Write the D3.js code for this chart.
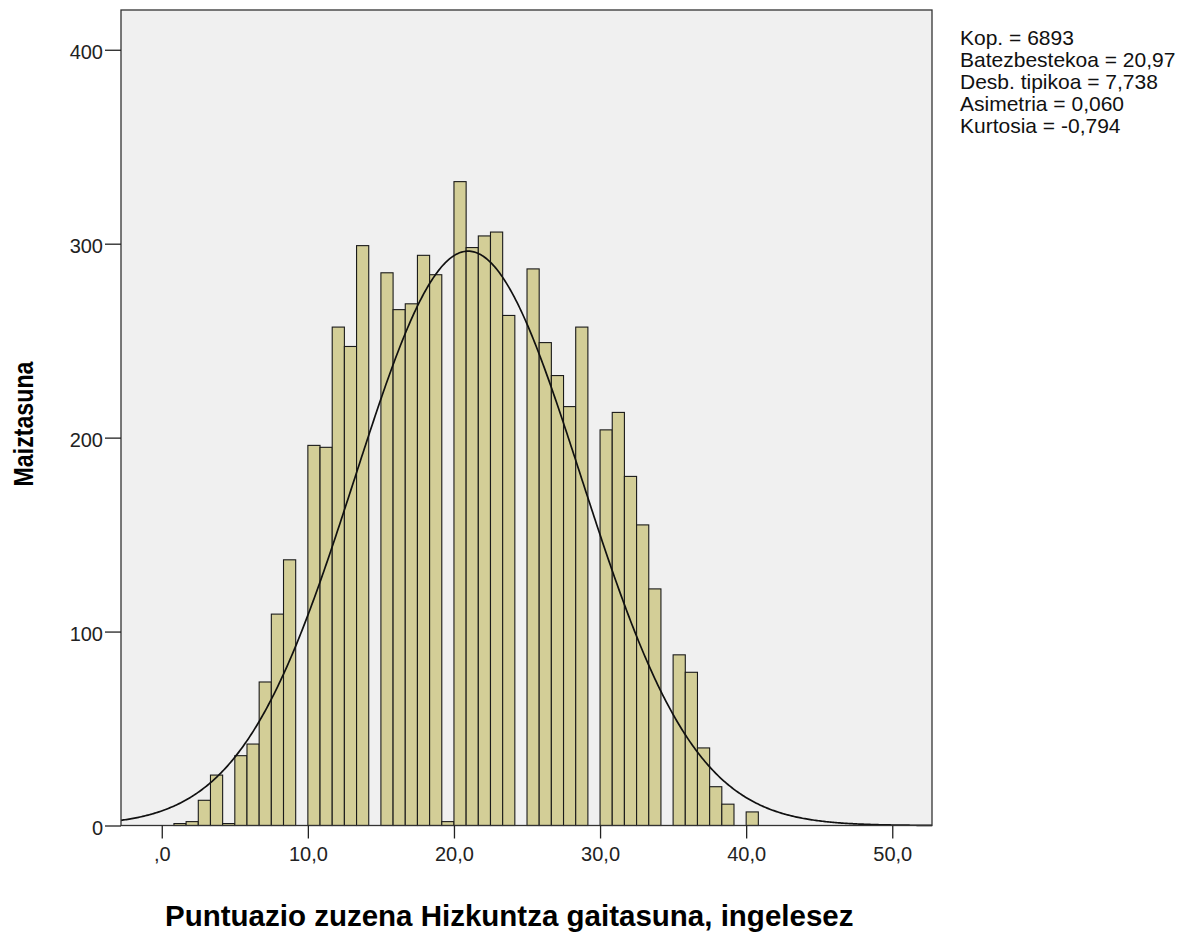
<!DOCTYPE html>
<html>
<head>
<meta charset="utf-8">
<script src="https://cdn.jsdelivr.net/npm/d3@7"></script>
<style>
  html, body { margin: 0; padding: 0; background: #fff; }
  svg { display: block; }
  text { font-family: "Liberation Sans", Arial, sans-serif; }
</style>
</head>
<body>
<svg id="chart" width="1189" height="933"></svg>
<script>
// ---- data ----
const binStart = 0;          // first bin left edge (score units)
const binWidth = 10 / 12;    // bin width (score units)
const binCounts = [0, 1, 2, 13, 26, 1, 36, 42, 74, 109, 137, 0, 196, 195, 257, 247, 299, 0,
                   285, 266, 269, 294, 284, 2, 332, 298, 304, 306, 263, 0, 287, 249, 232, 216,
                   257, 0, 204, 213, 180, 155, 122, 0, 88, 79, 40, 20, 11, 0, 7];
const xTickValues = [0, 10, 20, 30, 40, 50];
const xTickLabels = [",0", "10,0", "20,0", "30,0", "40,0", "50,0"];
const yTickValues = [0, 100, 200, 300, 400];
const yTickLabels = ["0", "100", "200", "300", "400"];
const statN = 6893, statMean = 20.97, statSD = 7.738;
const statLines = ["Kop. = 6893", "Batezbestekoa = 20,97", "Desb. tipikoa = 7,738",
                   "Asimetria = 0,060", "Kurtosia = -0,794"];
const xTitle = "Puntuazio zuzena Hizkuntza gaitasuna, ingelesez";
const yTitle = "Maiztasuna";

// ---- layout ----
const plot = { left: 121, right: 932, top: 10, bottom: 825.5 };
const svg = d3.select("#chart");

const x = d3.scaleLinear().domain([-2.79, 52.72]).range([plot.left, plot.right]);
const y = d3.scaleLinear().domain([0, 420.5]).range([plot.bottom, plot.top]);

// plot background
svg.append("rect")
  .attr("x", plot.left).attr("y", plot.top)
  .attr("width", plot.right - plot.left).attr("height", plot.bottom - plot.top)
  .attr("fill", "#f0f0f0");

// bars
const bins = binCounts.map((c, i) => ({ x0: binStart + i * binWidth, x1: binStart + (i + 1) * binWidth, c }));
svg.append("g").selectAll("rect")
  .data(bins.filter(d => d.c > 0))
  .join("rect")
  .attr("x", d => x(d.x0))
  .attr("width", d => x(d.x1) - x(d.x0))
  .attr("y", d => y(d.c))
  .attr("height", d => y(0) - y(d.c))
  .attr("fill", "#d3ce97")
  .attr("stroke", "#1a1a1a")
  .attr("stroke-width", 1.1);

// normal curve from the reported statistics
const pdf = v => Math.exp(-0.5 * Math.pow((v - statMean) / statSD, 2)) / (statSD * Math.sqrt(2 * Math.PI));
const curvePts = d3.range(0, 601).map(k => {
  const [a, b] = x.domain();
  const v = a + (b - a) * k / 600;
  return [v, statN * binWidth * pdf(v)];
});
svg.append("path")
  .datum(curvePts)
  .attr("fill", "none")
  .attr("stroke", "#111")
  .attr("stroke-width", 1.7)
  .attr("d", d3.line().x(d => x(d[0])).y(d => y(d[1])).curve(d3.curveLinear));

// frame
svg.append("rect")
  .attr("x", plot.left).attr("y", plot.top)
  .attr("width", plot.right - plot.left).attr("height", plot.bottom - plot.top)
  .attr("fill", "none").attr("stroke", "#333").attr("stroke-width", 1.3);

// axes
const xAxis = d3.axisBottom(x).tickValues(xTickValues)
  .tickFormat((d, i) => xTickLabels[i]).tickSize(13).tickPadding(8);
const gx = svg.append("g").attr("transform", `translate(0,${plot.bottom})`).call(xAxis);
gx.select(".domain").remove();
gx.selectAll("line").attr("stroke", "#222").attr("stroke-width", 1.3);
gx.selectAll("text").attr("font-size", 20).attr("fill", "#222")
  .attr("font-family", "'Liberation Sans', Arial, sans-serif");

const yAxis = d3.axisLeft(y).tickValues(yTickValues)
  .tickFormat((d, i) => yTickLabels[i]).tickSize(16).tickPadding(2);
const gy = svg.append("g").attr("transform", `translate(${plot.left},0)`).call(yAxis);
gy.select(".domain").remove();
gy.selectAll("line").attr("stroke", "#222").attr("stroke-width", 1.3);
gy.selectAll("text").attr("font-size", 20).attr("fill", "#222").attr("dy", "0.45em")
  .attr("font-family", "'Liberation Sans', Arial, sans-serif");

// stats
svg.append("g").selectAll("text")
  .data(statLines)
  .join("text")
  .attr("x", 960)
  .attr("y", (d, i) => 45 + i * 22)
  .attr("font-size", 21)
  .attr("fill", "#111")
  .text(d => d);

// titles
svg.append("text")
  .attr("x", 165).attr("y", 926)
  .attr("text-anchor", "start")
  .attr("font-size", 29.5).attr("font-weight", "bold").attr("fill", "#000")
  .text(xTitle);

svg.append("text")
  .attr("transform", "translate(33,424) rotate(-90)")
  .attr("text-anchor", "middle")
  .attr("font-size", 28).attr("font-weight", "bold").attr("fill", "#000")
  .attr("textLength", 125).attr("lengthAdjust", "spacingAndGlyphs")
  .text(yTitle);
</script>
</body>
</html>
